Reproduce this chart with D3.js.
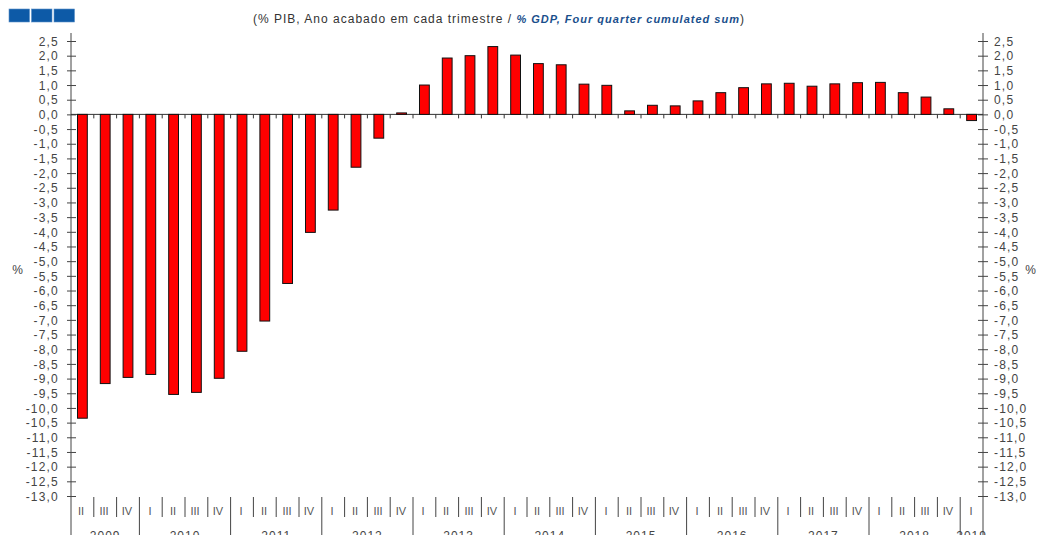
<!DOCTYPE html>
<html>
  <head>
    <meta charset="utf-8" />
    <script src="https://cdn.jsdelivr.net/npm/d3@7"></script>
    <style>
      body {
        margin: 0px;
        background: #fff;
      }
      text {
        font-family: "Liberation Sans", Arial, sans-serif;
        letter-spacing: 1px;
      }
      .tick text {
        fill: #444;
        font-size: 12px;
        letter-spacing: 1.2px;
      }
      .qlab {
        letter-spacing: 0px;
      }
    </style>
  </head>
  <body>
    <svg width="1037" height="535"></svg>
    <script>
      // quarters shown, 2009 II .. 2019 I
      const periods = [
        "2009-II", "2009-III", "2009-IV",
        "2010-I", "2010-II", "2010-III", "2010-IV",
        "2011-I", "2011-II", "2011-III", "2011-IV",
        "2012-I", "2012-II", "2012-III", "2012-IV",
        "2013-I", "2013-II", "2013-III", "2013-IV",
        "2014-I", "2014-II", "2014-III", "2014-IV",
        "2015-I", "2015-II", "2015-III", "2015-IV",
        "2016-I", "2016-II", "2016-III", "2016-IV",
        "2017-I", "2017-II", "2017-III", "2017-IV",
        "2018-I", "2018-II", "2018-III", "2018-IV",
        "2019-I",
      ];
      const years = ["2009", "2010", "2011", "2012", "2013", "2014", "2015", "2016", "2017", "2018", "2019"];
      // % of GDP, four quarter cumulated sum
      const values = [
        -10.35, -9.17, -8.96,
        -8.86, -9.54, -9.47, -8.99,
        -8.07, -7.04, -5.76, -4.02,
        -3.26, -1.8, -0.81, 0.05,
        1.0, 1.92, 2.0, 2.31,
        2.02, 1.73, 1.69, 1.03,
        0.99, 0.12, 0.31, 0.29,
        0.46, 0.74, 0.91, 1.04,
        1.06, 0.96, 1.04, 1.08,
        1.09, 0.74, 0.59, 0.19,
        -0.21,
      ];
      const yMin = -13;
      const yMax = 2.5;
      const yStep = 0.5;
      const titleMain = "(% PIB, Ano acabado em cada trimestre / ";
      const titleEn = "% GDP, Four quarter cumulated sum";
      const unitLabel = "%";

      const plotLeft = 71, plotRight = 983, plotTop = 41, plotBottom = 496;
      const svg = d3.select("svg");

      const xScale = d3.scaleBand().domain(periods).range([plotLeft, plotRight]);
      const yScale = d3.scaleLinear().domain([yMin, yMax]).range([plotBottom, plotTop]);
      const fmt = (d) => d3.format(".1f")(d).replace(".", ",").replace("−", "-");
      const tickVals = d3.range(yMin, yMax + yStep / 2, yStep);

      // logo squares
      [0, 1, 2].forEach((i) => {
        svg.append("rect")
          .attr("x", 9 + i * 22.5)
          .attr("y", 9)
          .attr("width", 20.5)
          .attr("height", 13)
          .attr("fill", "#0d5aa7")
          .attr("stroke", "#5b8fc8")
          .attr("stroke-width", 0.6);
      });

      // title
      const title = svg.append("text")
        .attr("x", 499)
        .attr("y", 23)
        .attr("text-anchor", "middle")
        .style("font-size", "12px")
        .attr("fill", "#333");
      title.append("tspan").text(titleMain);
      title.append("tspan")
        .attr("fill", "#1a4f8c")
        .style("font-weight", "bold")
        .style("font-style", "italic")
        .style("font-size", "11px")
        .text(titleEn);
      title.append("tspan").text(")");

      // y axes
      const yAxisL = d3.axisLeft(yScale).tickValues(tickVals).tickFormat(fmt).tickSize(5);
      const yAxisR = d3.axisRight(yScale).tickValues(tickVals).tickFormat(fmt).tickSize(5);

      const gl = svg.append("g").attr("transform", `translate(${plotLeft},0)`).call(yAxisL);
      gl.select(".domain").remove();
      gl.selectAll(".tick line").attr("x1", -4).attr("x2", 5).attr("stroke", "#444");
      gl.selectAll(".tick text").attr("x", -12).attr("dy", "0.35em");

      const gr = svg.append("g").attr("transform", `translate(${plotRight},0)`).call(yAxisR);
      gr.select(".domain").remove();
      gr.selectAll(".tick line").attr("x1", -5).attr("x2", 5).attr("stroke", "#444");
      gr.selectAll(".tick text").attr("x", 11).attr("dy", "0.35em");

      [plotLeft, plotRight].forEach((x) => {
        svg.append("line")
          .attr("x1", x).attr("x2", x)
          .attr("y1", 33).attr("y2", 535)
          .attr("stroke", "#444");
      });

      svg.append("text")
        .attr("x", 18).attr("y", 274)
        .attr("text-anchor", "middle")
        .attr("fill", "#444")
        .style("font-size", "12px")
        .text(unitLabel);
      svg.append("text")
        .attr("x", 1031).attr("y", 274)
        .attr("text-anchor", "middle")
        .attr("fill", "#444")
        .style("font-size", "12px")
        .text(unitLabel);

      // zero line with quarter ticks
      const y0 = yScale(0);
      svg.append("line")
        .attr("x1", plotLeft).attr("x2", plotRight)
        .attr("y1", y0).attr("y2", y0)
        .attr("stroke", "#333");
      svg.selectAll(".qtick")
        .data(periods.slice(1))
        .enter()
        .append("line")
        .attr("x1", (d) => xScale(d))
        .attr("x2", (d) => xScale(d))
        .attr("y1", y0)
        .attr("y2", y0 + 4)
        .attr("stroke", "#333");

      // bars
      const bw = xScale.bandwidth() * 0.43;
      svg.selectAll(".bar")
        .data(values)
        .enter()
        .append("rect")
        .attr("x", (d, i) => xScale(periods[i]) + xScale.bandwidth() / 2 - bw / 2)
        .attr("y", (d) => yScale(Math.max(0, d)))
        .attr("width", bw)
        .attr("height", (d) => Math.abs(yScale(d) - y0))
        .attr("fill", "#ff0000")
        .attr("stroke", "#111")
        .attr("stroke-width", 1);

      // bottom category axis
      svg.selectAll(".sep")
        .data(periods.slice(1))
        .enter()
        .append("line")
        .attr("x1", (d) => xScale(d))
        .attr("x2", (d) => xScale(d))
        .attr("y1", 497)
        .attr("y2", (d) => (d.endsWith("-I") ? 535 : 517))
        .attr("stroke", "#444");

      svg.selectAll(".qlab")
        .data(periods)
        .enter()
        .append("text")
        .attr("class", "qlab")
        .attr("x", (d) => Math.round(xScale(d) + xScale.bandwidth() / 2 - 1))
        .attr("y", 515)
        .attr("text-anchor", "middle")
        .attr("fill", "#555")
        .style("font-size", "11px")
        .text((d) => d.split("-")[1]);

      svg.selectAll(".ylab")
        .data(years)
        .enter()
        .append("text")
        .attr("x", (yr) => {
          const ps = periods.filter((p) => p.startsWith(yr));
          return (xScale(ps[0]) + xScale(ps[ps.length - 1]) + xScale.bandwidth()) / 2;
        })
        .attr("y", 540)
        .attr("text-anchor", "middle")
        .attr("fill", "#444")
        .style("font-size", "12px")
        .text((yr) => yr);
    </script>
  </body>
</html>
